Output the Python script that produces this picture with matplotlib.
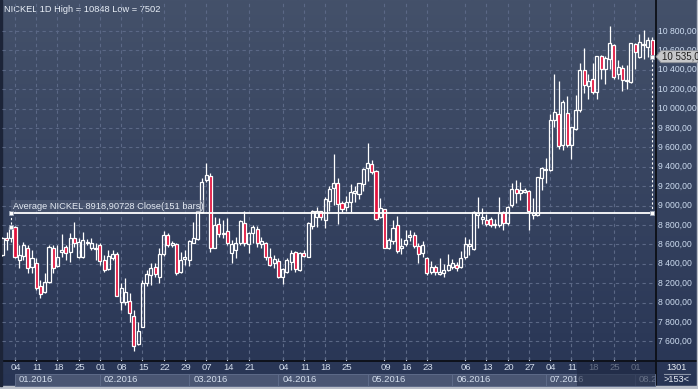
import numpy as np
import pandas as pd
import matplotlib
matplotlib.use("Agg")
import matplotlib.pyplot as plt
from matplotlib.patches import Rectangle, Polygon
from matplotlib.transforms import Bbox

# ---------------- data (daily OHLC, NICKEL) ----------------
opens = [8491, 8663, 8663,
         8776, 8440, 8481, 8567, 8371, 8406, 8166, 8107, 8217, 8567,
         8382, 8519, 8570, 8526, 8670, 8474, 8474, 8629, 8560, 8567,
         8594, 8437, 8347, 8464, 8505, 8004, 8011, 8018, 7860, 7572,
         7751, 8200, 8286, 8365, 8269, 8500, 8698, 8591, 8605, 8320,
         8450, 8440, 8619, 8660, 8938, 9264, 9309, 8567, 8807, 8708,
         8739, 8516, 8543, 8612, 8818, 8605, 8715, 8756, 8605, 8619,
         8468, 8406, 8430, 8268, 8320, 8423, 8519, 8337, 8516, 8474,
         8794, 8886, 8945, 8850, 9049, 9186, 9238, 9022, 8987, 9032,
         9135, 9118, 9221, 9385, 9427, 9358, 8884, 8970, 8561, 8630,
         8798, 8558, 8603, 8678, 8695, 8586, 8507, 8455, 8311, 8369,
         8294, 8304, 8335, 8369, 8390, 8362, 8465, 8586, 8551, 8905,
         8860, 8850, 8857, 8798, 8798, 8935, 8822, 9004, 9169, 9125,
         9142, 9152, 8902, 8902, 9286, 9365, 9365, 9880, 9949, 9622,
         9955, 9629, 9794, 9983, 10402, 10234, 10309, 10172, 10539, 10412,
         10508, 10659, 10361, 10419, 10285, 10275, 10669, 10532, 10652, 10635,
         10704]
highs = [8680, 8732, 8790,
         8790, 8594, 8629, 8594, 8543, 8457, 8234, 8303, 8594, 8594,
         8594, 8704, 8594, 8714, 8828, 8663, 8732, 8656, 8663, 8612,
         8612, 8491, 8543, 8543, 8526, 8200, 8251, 8097, 7925, 7805,
         8234, 8337, 8406, 8406, 8560, 8740, 8715, 8640, 8612, 8526,
         8543, 8646, 8835, 8945, 9281, 9436, 9333, 8886, 8869, 8852,
         8869, 8646, 8680, 8852, 8948, 8732, 8801, 8790, 8680, 8629,
         8560, 8491, 8457, 8354, 8457, 8543, 8533, 8526, 8543, 8835,
         8955, 8989, 8945, 9090, 9204, 9530, 9289, 9049, 9100, 9221,
         9204, 9238, 9392, 9643, 9471, 9365, 9083, 8970, 8671, 8850,
         8894, 8665, 8747, 8747, 8723, 8610, 8637, 8465, 8431, 8386,
         8455, 8397, 8500, 8448, 8414, 8534, 8678, 8654, 8946, 9090,
         8980, 8912, 8884, 8867, 9090, 8942, 8994, 9228, 9262, 9245,
         9183, 9159, 9080, 9296, 9399, 9492, 9949, 10361, 10282, 10086,
         10131, 9811, 10137, 10474, 10625, 10361, 10474, 10539, 10556, 10542,
         10848, 10669, 10498, 10446, 10453, 10676, 10680, 10772, 10814, 10738,
         10738]
lows = [8481, 8543, 8629,
        8457, 8354, 8440, 8303, 8303, 8131, 8046, 8097, 8200, 8303,
        8371, 8474, 8440, 8423, 8577, 8457, 8457, 8594, 8543, 8440,
        8389, 8320, 8337, 8440, 8063, 7925, 7977, 7805, 7502, 7565,
        7744, 8166, 8183, 8269, 8200, 8480, 8578, 8570, 8286, 8310,
        8389, 8378, 8612, 8646, 8921, 9247, 8526, 8560, 8680, 8663,
        8595, 8413, 8457, 8595, 8584, 8509, 8612, 8571, 8560, 8440,
        8378, 8354, 8251, 8189, 8303, 8337, 8320, 8330, 8474, 8467,
        8756, 8777, 8852, 8766, 8946, 9008, 8809, 8929, 8946, 8929,
        9032, 9066, 9152, 9255, 9324, 8850, 8870, 8561, 8551, 8603,
        8507, 8500, 8586, 8637, 8568, 8404, 8465, 8287, 8294, 8287,
        8287, 8266, 8328, 8345, 8328, 8355, 8448, 8493, 8541, 8774,
        8809, 8792, 8781, 8764, 8781, 8744, 8798, 8987, 9022, 9056,
        9125, 8744, 8867, 8895, 9159, 9228, 9355, 9811, 9588, 9571,
        9605, 9485, 9777, 9966, 10165, 10103, 10155, 10103, 10302, 10258,
        10412, 10309, 10309, 10179, 10206, 10268, 10412, 10522, 10515, 10532,
        10532]
closes = [8663, 8646, 8783,
          8468, 8491, 8594, 8361, 8457, 8148, 8090, 8210, 8577, 8361,
          8474, 8543, 8509, 8670, 8612, 8629, 8646, 8612, 8612, 8553,
          8430, 8337, 8481, 8498, 8073, 8148, 8114, 7891, 7548, 7709,
          8207, 8292, 8361, 8296, 8505, 8697, 8595, 8619, 8303, 8440,
          8474, 8636, 8663, 8940, 9247, 9316, 8560, 8800, 8704, 8722,
          8612, 8602, 8619, 8842, 8612, 8715, 8777, 8612, 8636, 8468,
          8389, 8447, 8268, 8344, 8440, 8509, 8344, 8509, 8485, 8825,
          8945, 8948, 8880, 9070, 9169, 9228, 9015, 8963, 9032, 9142,
          9152, 9228, 9375, 9437, 9351, 8860, 8974, 8568, 8644, 8774,
          8534, 8586, 8647, 8695, 8586, 8500, 8592, 8304, 8369, 8311,
          8311, 8335, 8390, 8404, 8352, 8455, 8603, 8603, 8936, 8919,
          8884, 8809, 8805, 8815, 8925, 8822, 8987, 9169, 9132, 9159,
          9162, 8943, 8925, 9296, 9389, 9379, 9880, 9966, 9612, 10069,
          9622, 9811, 9990, 10395, 10240, 10285, 10172, 10539, 10412, 10525,
          10680, 10326, 10429, 10299, 10299, 10676, 10584, 10687, 10669, 10711,
          10535]

pre_dates = ["2015-12-29", "2015-12-30", "2015-12-31"]
holidays = ["2016-03-25", "2016-03-28", "2016-05-02", "2016-05-30"]
avg_value = 8918.90728
avg_label = "Average NICKEL 8918,90728 Close(151 bars)"
title = "NICKEL 1D High = 10848 Low = 7502"
last_label = "10 535,0"
y_ticks = list(range(7600, 10801, 200))
corner_top = "1301"
corner_bottom = ">153<"

# ---------------- dates -> bar index ----------------
days = pd.bdate_range("2016-01-04", "2016-08-05")
days = days[~days.isin(pd.to_datetime(holidays))]
dates = pd.to_datetime(pre_dates).append(days)
n_pre = len(pre_dates)
xs = np.arange(len(dates)) - n_pre

W, H = 698, 389
fig = plt.figure(figsize=(W / 100, H / 100), dpi=100)

# background
bg = fig.add_axes([0, 0, 1, 1])
bg.set_xlim(0, W)
bg.set_ylim(H, 0)
bg.axis("off")
top_c = np.array([68, 81, 106]) / 255
bot_c = np.array([40, 53, 85]) / 255
t = np.linspace(0, 1, 256)[:, None, None]
grad = top_c * (1 - t) + bot_c * t
bg.imshow(grad, extent=(0, W, H, 0), aspect="auto", zorder=0, interpolation="bilinear")

# main axes in pixel layout
L, R, T, B = 2, 655, 2, 360
ax = fig.add_axes([L / W, 1 - B / H, (R - L) / W, (B - T) / H])
ax.patch.set_alpha(0)
px_per_bar = 4.247
x0_px = 15
ax.set_xlim((L - x0_px) / px_per_bar, (R - x0_px) / px_per_bar)
px_per_unit = 0.097
y9000 = 205.6
ax.set_ylim(9000 - (B - y9000) / px_per_unit, 9000 + (y9000 - T) / px_per_unit)
for s in ax.spines.values():
    s.set_visible(False)
ax.set_xticks([])
ax.set_yticks([])

# grid
grid_kw = dict(color="#5b6886", lw=0.8, dashes=(3, 3), zorder=1)
for v in y_ticks:
    ax.axhline(v, **grid_kw)
mondays = [i for i, d in enumerate(dates) if d.weekday() == 0 and d.year == 2016]
for i in mondays:
    ax.axvline(xs[i], **grid_kw)

# candles
red = "#e2123c"
w = 0.72
for x, o, h, l, c in zip(xs, opens, highs, lows, closes):
    top, bot = max(o, c), min(o, c)
    ax.plot([x, x], [top, h], color="white", lw=0.9, solid_capstyle="butt", zorder=3)
    ax.plot([x, x], [l, bot], color="white", lw=0.9, solid_capstyle="butt", zorder=3)
    face = red if c < o else "none"
    ax.add_patch(Rectangle((x - w / 2, bot), w, max(top - bot, 4), facecolor=face,
                           edgecolor="white", lw=0.9, zorder=4))

# average line
x_first, x_last = xs[2], xs[-1]
ax.plot([x_first, x_last], [avg_value, avg_value], color="white", lw=1.3, zorder=5)
ax.plot([x_first, x_first], [avg_value, closes[2]], color="white", lw=0.8, ls=(0, (2, 2)), zorder=5)
ax.plot([x_last, x_last], [avg_value, closes[-1]], color="white", lw=0.8, ls=(0, (2, 2)), zorder=5)
ax.plot([x_first, x_first, x_last, x_last], [avg_value, closes[2], avg_value, closes[-1]],
        ls="none", marker="s", ms=3.2, mfc="white", mec="#9aa3b5", mew=0.6, zorder=6)
ax.text(x_first + 0.5, avg_value + 30, avg_label, fontsize=6.7, color="#e3e9f2",
        family="Liberation Sans", va="bottom", ha="left", zorder=7,
        bbox=dict(boxstyle="square,pad=0.15", fc="#5a657e", ec="none", alpha=0.45))

# frame lines
bg.plot([R + 0.5, R + 0.5], [0, H], color="#0c0f16", lw=1.3, zorder=5)
bg.plot([0, W], [B + 0.8, B + 0.8], color="#0c0f16", lw=1.3, zorder=5)
bg.add_patch(Rectangle((0, H - 3), W, 3, color="#b9bec8", zorder=6))
bg.add_patch(Rectangle((W - 1, 0), 1, H, color="#b9bec8", zorder=6))
bg.add_patch(Rectangle((0, 0), 1.5, H - 3, color="#1c2438", zorder=6))

# title
bg.text(4, 9, title, fontsize=6.7, color="#e8eef7", family="Liberation Sans",
        va="center", ha="left", zorder=7)

# right axis labels
def ypx(v):
    return y9000 + (9000 - v) * px_per_unit

for v in y_ticks:
    lab = f"{v:,.2f}".replace(",", " ").replace(".", ",")
    bg.text(658.5, ypx(v), lab, fontsize=6.2, color="#cddcf0", family="Liberation Sans",
            va="center", ha="left", zorder=7)

# last price tag
yl = ypx(closes[-1])
bg.add_patch(Polygon([(656, yl), (661, yl - 6), (W, yl - 6), (W, yl + 6), (661, yl + 6)],
                     closed=True, fc="#c6c7c9", ec="#8d9097", lw=0.6, zorder=8))
bg.text(662, yl, last_label, fontsize=7.0, color="#1d1d1d", family="Liberation Sans",
        va="center", ha="left", zorder=9)

# bottom date axis
def xpx(i):
    return x0_px + xs[i] * px_per_bar

clip = Bbox.from_extents(0, 0, R / W * fig.bbox.width, fig.bbox.height)
for i in mondays:
    bg.plot([xpx(i), xpx(i)], [B - 2.5, B - 0.5], color="#c9d3e3", lw=0.8, zorder=7)
    bg.text(xpx(i) + 1, 367.5, dates[i].strftime("%d"), fontsize=6.8, color="#d3ddec",
            family="Liberation Sans", va="center", ha="center", zorder=7)

month_starts = []
for i, d in enumerate(dates):
    if d.year == 2016 and (i == n_pre or dates[i - 1].month != d.month):
        month_starts.append(i)
for k, i in enumerate(month_starts):
    x_a = xpx(i)
    x_b = xpx(month_starts[k + 1]) if k + 1 < len(month_starts) else R
    bg.add_patch(Rectangle((x_a, 373.5), x_b - x_a, 12.5, fc="#4a5673", ec="#5e6b89",
                           lw=0.7, zorder=6))
    tx = bg.text(x_a + 4, 380, dates[i].strftime("%m.%Y"), fontsize=6.8, color="#d3ddec",
                 family="Liberation Sans", va="center", ha="left", zorder=7)
    tx.set_clip_box(clip)
    tx.set_clip_on(True)

# dark overlay on right part of date axis
bg.add_patch(Rectangle((577, B + 1.5), R - 577, H - 3 - B - 1.5, fc="#1e2842", alpha=0.6,
                       ec="none", zorder=8))

# corner box
bg.text(677, 367, corner_top, fontsize=6.6, color="#e8edf5", family="Liberation Sans",
        va="center", ha="center", zorder=7)
bg.plot([664, 690], [373.5, 373.5], color="#8d96a8", lw=0.8, zorder=7)
bg.text(677, 379.5, corner_bottom, fontsize=6.6, color="#e8edf5", family="Liberation Sans",
        va="center", ha="center", zorder=7)

fig.savefig("out.png", dpi=100)
